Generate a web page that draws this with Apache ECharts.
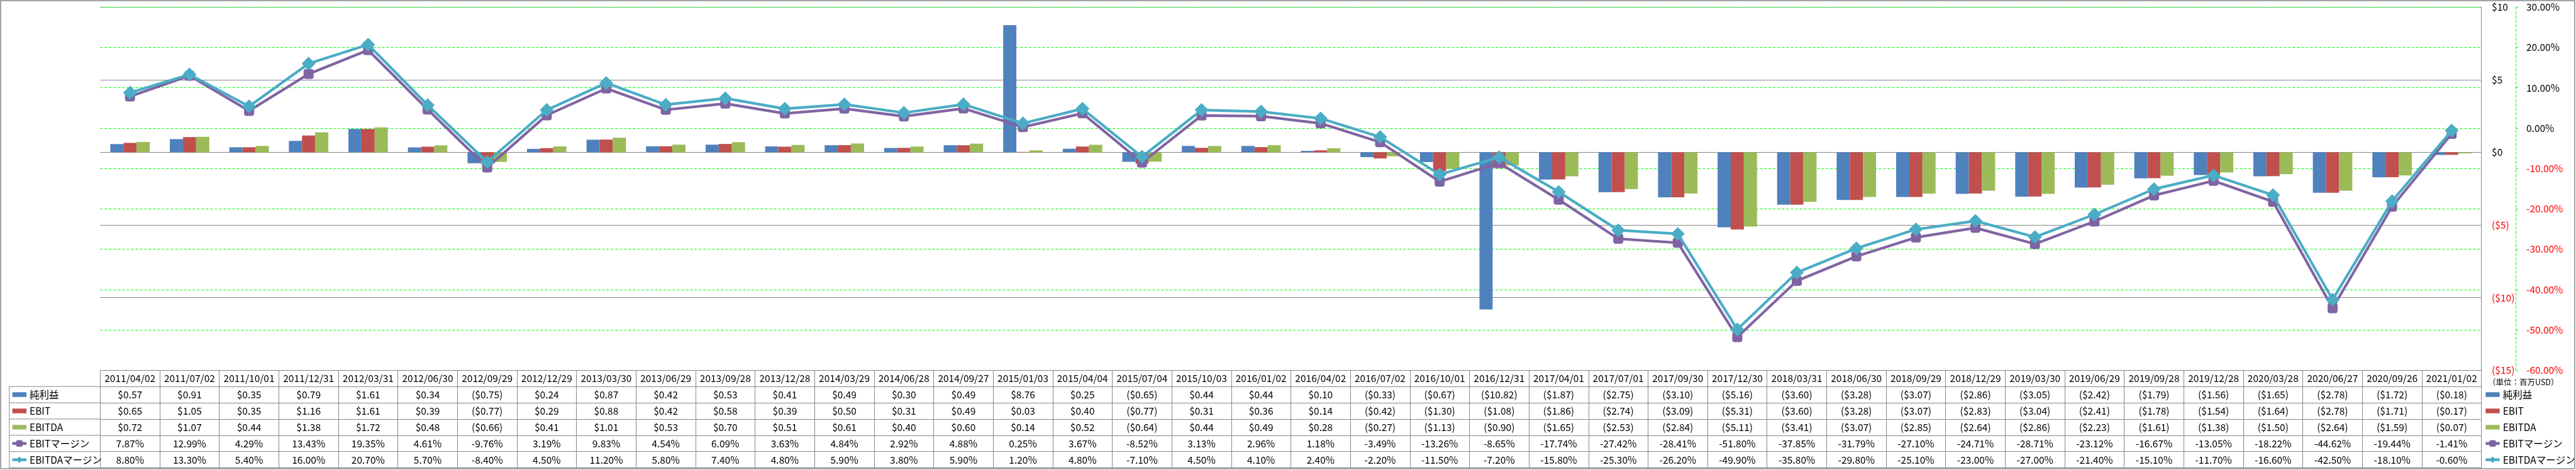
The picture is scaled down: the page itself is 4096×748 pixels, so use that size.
<!DOCTYPE html>
<html><head><meta charset="utf-8">
<script src="https://cdn.jsdelivr.net/npm/echarts@6/dist/echarts.min.js"></script>
<style>html,body{margin:0;padding:0;background:#fff}#c{width:4096px;height:748px}</style>
</head><body><div id="c"></div>
<script>
const dates = ['2011/04/02','2011/07/02','2011/10/01','2011/12/31','2012/03/31','2012/06/30','2012/09/29','2012/12/29','2013/03/30','2013/06/29','2013/09/28','2013/12/28','2014/03/29','2014/06/28','2014/09/27','2015/01/03','2015/04/04','2015/07/04','2015/10/03','2016/01/02','2016/04/02','2016/07/02','2016/10/01','2016/12/31','2017/04/01','2017/07/01','2017/09/30','2017/12/30','2018/03/31','2018/06/30','2018/09/29','2018/12/29','2019/03/30','2019/06/29','2019/09/28','2019/12/28','2020/03/28','2020/06/27','2020/09/26','2021/01/02'];
const netIncome = [0.57,0.91,0.35,0.79,1.61,0.34,-0.75,0.24,0.87,0.42,0.53,0.41,0.49,0.30,0.49,8.76,0.25,-0.65,0.44,0.44,0.10,-0.33,-0.67,-10.82,-1.87,-2.75,-3.10,-5.16,-3.60,-3.28,-3.07,-2.86,-3.05,-2.42,-1.79,-1.56,-1.65,-2.78,-1.72,-0.18];
const ebit = [0.65,1.05,0.35,1.16,1.61,0.39,-0.77,0.29,0.88,0.42,0.58,0.39,0.50,0.31,0.49,0.03,0.40,-0.77,0.31,0.36,0.14,-0.42,-1.30,-1.08,-1.86,-2.74,-3.09,-5.31,-3.60,-3.28,-3.07,-2.83,-3.04,-2.41,-1.78,-1.54,-1.64,-2.78,-1.71,-0.17];
const ebitda = [0.72,1.07,0.44,1.38,1.72,0.48,-0.66,0.41,1.01,0.53,0.70,0.51,0.61,0.40,0.60,0.14,0.52,-0.64,0.44,0.49,0.28,-0.27,-1.13,-0.90,-1.65,-2.53,-2.84,-5.11,-3.41,-3.07,-2.85,-2.64,-2.86,-2.23,-1.61,-1.38,-1.50,-2.64,-1.59,-0.07];
const ebitMargin = [7.87,12.99,4.29,13.43,19.35,4.61,-9.76,3.19,9.83,4.54,6.09,3.63,4.84,2.92,4.88,0.25,3.67,-8.52,3.13,2.96,1.18,-3.49,-13.26,-8.65,-17.74,-27.42,-28.41,-51.80,-37.85,-31.79,-27.10,-24.71,-28.71,-23.12,-16.67,-13.05,-18.22,-44.62,-19.44,-1.41];
const ebitdaMargin = [8.80,13.30,5.40,16.00,20.70,5.70,-8.40,4.50,11.20,5.80,7.40,4.80,5.90,3.80,5.90,1.20,4.80,-7.10,4.50,4.10,2.40,-2.20,-11.50,-7.20,-15.80,-25.30,-26.20,-49.90,-35.80,-29.80,-25.10,-23.00,-27.00,-21.40,-15.10,-11.70,-16.60,-42.50,-18.10,-0.60];
const seriesNames = ['純利益','EBIT','EBITDA','EBITマージン','EBITDAマージン'];
const dollarTickValues = [-15,-10,-5,0,5,10];
const dollarTickLabels = ['($15)','($10)','($5)','$0','$5','$10'];
const pctTickValues = [-60,-50,-40,-30,-20,-10,0,10,20,30];
const pctTickLabels = ['-60.00%','-50.00%','-40.00%','-30.00%','-20.00%','-10.00%','0.00%','10.00%','20.00%','30.00%'];
const unitText = '（単位：百万USD）';

const FONT = '"Noto Sans CJK JP","Noto Sans",sans-serif';
const GRAY = '#868686';
const GREEN = '#00FF00';
const GRID_L = 159.4, GRID_R = 150.4, GRID_T = 11.3, GRID_BOT_Y = 589.2;
const ROW_H = 25.9;
const FS = 15.5;

function fmtD(v){ return v < 0 ? '($' + (-v).toFixed(2) + ')' : '$' + v.toFixed(2); }
function fmtP(v){ return v.toFixed(2) + '%'; }
function tickLabel(vals, labels, v){
  const i = vals.findIndex(t => Math.abs(t - v) < 1e-6);
  const s = i >= 0 ? labels[i] : '';
  return v < 0 ? '{r|' + s + '}' : s;
}

const rows = [
  {data: netIncome, fmt: fmtD},
  {data: ebit, fmt: fmtD},
  {data: ebitda, fmt: fmtD},
  {data: ebitMargin, fmt: fmtP},
  {data: ebitdaMargin, fmt: fmtP}
];

function tableAxis(k, formatter, showTick){
  return {
    type: 'category', gridIndex: 0, data: dates, position: 'bottom', offset: k * ROW_H,
    boundaryGap: true,
    axisLine: {show: true, onZero: false, lineStyle: {color: GRAY, width: 1}},
    axisTick: {show: showTick, interval: 0, length: ROW_H, lineStyle: {color: GRAY, width: 1}},
    axisLabel: {show: !!formatter, interval: 0, margin: ROW_H / 2, verticalAlign: 'middle',
      formatter: formatter || undefined, fontFamily: FONT, fontSize: FS, color: '#000', hideOverlap: false},
    splitLine: {show: false}
  };
}

const xAxes = [tableAxis(0, (v) => v, true)];
rows.forEach((r, k) => xAxes.push(tableAxis(k + 1, (v, i) => r.fmt(r.data[i]), true)));
xAxes.push(tableAxis(6, null, false));

const barIcon = 'path://M0,0L0.01,0M0,2.2H26V10.8H0ZM0,13L0.01,13';
const legendData = [
  {name: seriesNames[0], icon: barIcon},
  {name: seriesNames[1], icon: barIcon},
  {name: seriesNames[2], icon: barIcon},
  {name: seriesNames[3], lineStyle: {width: 4.5}},
  {name: seriesNames[4], lineStyle: {width: 4.5}}
];
function legendAt(left){
  return {orient: 'vertical', left: left, top: GRID_BOT_Y + ROW_H, padding: 0, itemGap: 0,
    itemWidth: 22.4, itemHeight: 13, selectedMode: false, data: legendData,
    textStyle: {fontFamily: FONT, fontSize: FS, color: '#000', lineHeight: ROW_H}};
}

const graphics = [
  {type: 'rect', shape: {x: 1, y: 1, width: 4093, height: 745}, style: {fill: 'none', stroke: GRAY, lineWidth: 1.5}, silent: true},
  {type: 'text', x: 3956, y: 608, silent: true,
    style: {text: unitText, fontFamily: FONT, fontSize: 12.5, fill: '#000', verticalAlign: 'middle', align: 'left'}}
];
const colX0 = 14.8;
for (let k = 1; k <= 6; k++) {
  const y = GRID_BOT_Y + k * ROW_H;
  graphics.push({type: 'line', shape: {x1: colX0, y1: y, x2: GRID_L, y2: y}, style: {stroke: GRAY, lineWidth: 1}, silent: true});
}
graphics.push({type: 'line', shape: {x1: colX0, y1: GRID_BOT_Y + ROW_H, x2: colX0, y2: GRID_BOT_Y + 6 * ROW_H}, style: {stroke: GRAY, lineWidth: 1}, silent: true});

const chart = echarts.init(document.getElementById('c'), null, {renderer: 'canvas'});
chart.setOption({
  animation: false,
  backgroundColor: '#fff',
  textStyle: {fontFamily: FONT},
  grid: {left: GRID_L, right: GRID_R, top: GRID_T, bottom: 748 - GRID_BOT_Y, containLabel: false, outerBoundsMode: 'none'},
  legend: [legendAt(17.4), legendAt(3950)],
  xAxis: xAxes,
  yAxis: [
    {type: 'value', position: 'right', min: -15, max: 10, interval: 5,
      axisLine: {show: true, lineStyle: {color: GRAY, width: 1}}, axisTick: {show: false},
      axisLabel: {margin: 16.5, fontFamily: FONT, fontSize: FS, color: '#000',
        formatter: (v) => tickLabel(dollarTickValues, dollarTickLabels, v),
        rich: {r: {color: '#FF0000', fontFamily: FONT, fontSize: FS}}},
      splitLine: {show: true, lineStyle: {color: GRAY, width: 1}}},
    {type: 'value', position: 'right', offset: 54.9, min: -60, max: 30, interval: 10,
      axisLine: {show: true, lineStyle: {color: GREEN, width: 1, type: [4, 3]}},
      axisTick: {show: true, length: 3.5, lineStyle: {color: GREEN, width: 1}},
      axisLabel: {margin: 16.5, fontFamily: FONT, fontSize: FS, color: '#000',
        formatter: (v) => tickLabel(pctTickValues, pctTickLabels, v),
        rich: {r: {color: '#FF0000', fontFamily: FONT, fontSize: FS}}},
      splitLine: {show: true, lineStyle: {color: GREEN, width: 1, type: [4, 3]}}}
  ],
  series: [
    {name: seriesNames[0], type: 'bar', data: netIncome, barWidth: 20.9, barGap: '0%', itemStyle: {color: '#4F81BD'}},
    {name: seriesNames[1], type: 'bar', data: ebit, barWidth: 20.9, barGap: '0%', itemStyle: {color: '#C0504D'}},
    {name: seriesNames[2], type: 'bar', data: ebitda, barWidth: 20.9, barGap: '0%', itemStyle: {color: '#9BBB59'}},
    {name: seriesNames[3], type: 'line', yAxisIndex: 1, data: ebitMargin, symbol: 'roundRect', symbolSize: 16,
      lineStyle: {width: 4.2, color: '#8064A2'}, itemStyle: {color: '#8064A2'}, z: 3},
    {name: seriesNames[4], type: 'line', yAxisIndex: 1, data: ebitdaMargin, symbol: 'diamond', symbolSize: 22,
      lineStyle: {width: 4.2, color: '#4BACC6'}, itemStyle: {color: '#4BACC6'}, z: 4}
  ],
  graphic: graphics
});
</script>
</body></html>
